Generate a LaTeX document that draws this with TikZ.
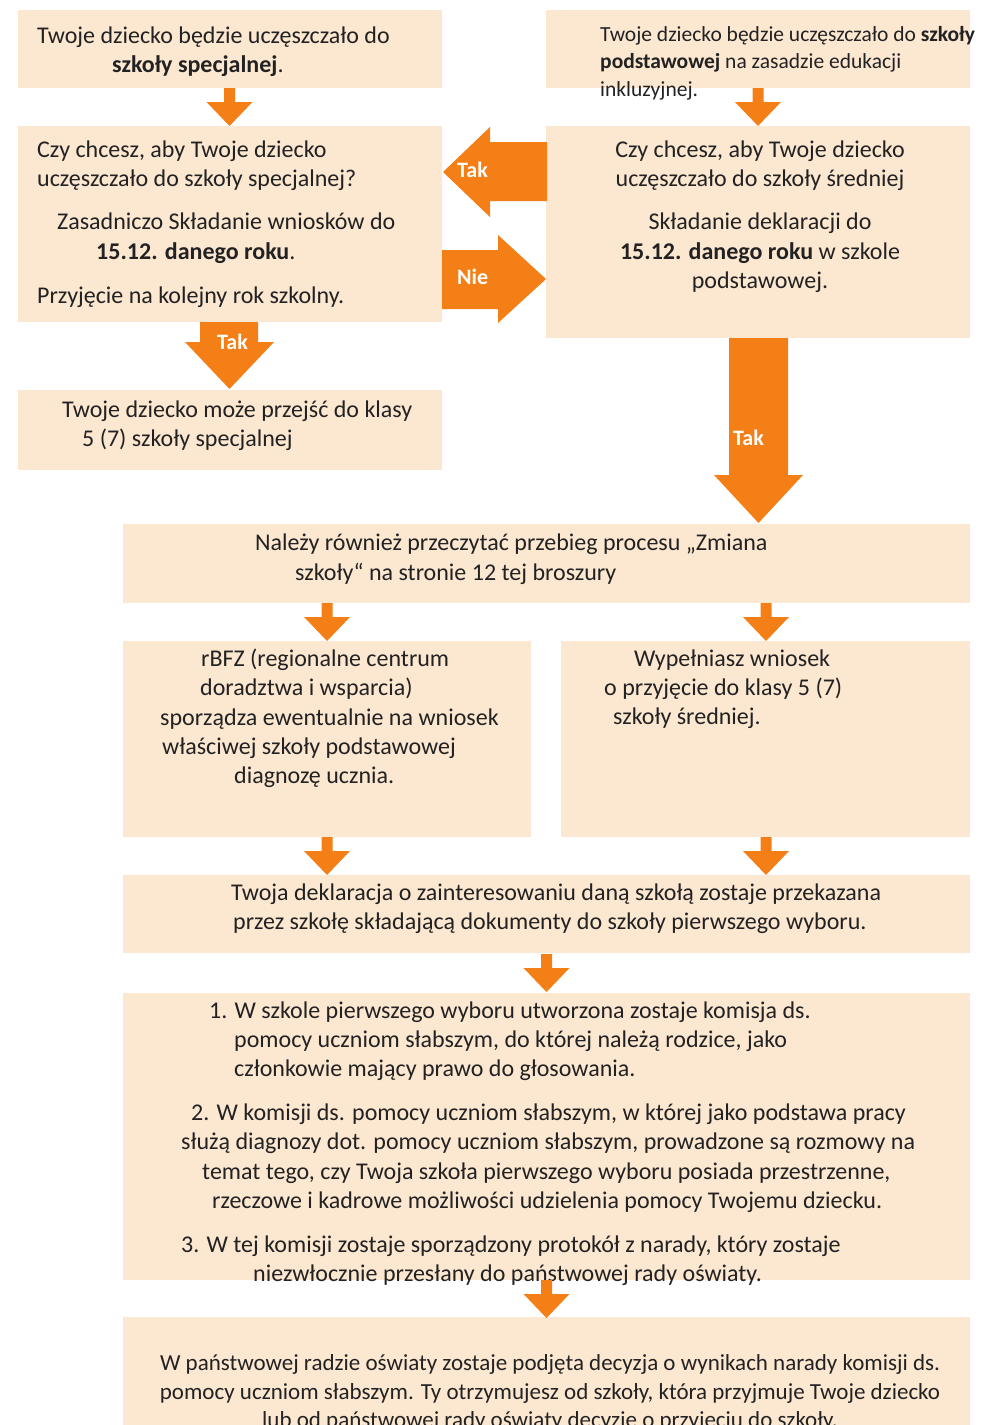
\documentclass[tikz,border=0pt]{standalone}
\usepackage{fontspec}
\setmainfont{Carlito}
\definecolor{boxc}{HTML}{FCE7D1}
\definecolor{arrc}{HTML}{F47F17}
\definecolor{txtc}{HTML}{222222}
\tikzset{
  box/.style={fill=boxc, draw=none, anchor=north west, inner sep=0pt},
  txt/.style={inner sep=0pt, text=txtc, font=\fontsize{24}{29}\selectfont, anchor=base west},
  txtc/.style={inner sep=0pt, text=txtc, font=\fontsize{24}{29}\selectfont, anchor=base},
  ftxt/.style={inner sep=0pt, text=txtc, font=\fontsize{23}{29}\selectfont, anchor=base},
  stxt/.style={inner sep=0pt, text=txtc, font=\fontsize{21.5}{27.5}\selectfont, anchor=base west},
  lab/.style={inner sep=0pt, text=white, font=\fontsize{22}{26}\selectfont\bfseries, anchor=base west},
  sdown/.pic={\fill[arrc] (-5.5,0) -- (5.5,0) -- (5.5,14) -- (23,14) -- (0,38) -- (-23,14) -- (-5.5,14) -- cycle;}
}
\begin{document}
\begin{tikzpicture}[x=1pt,y=-1pt]
\useasboundingbox (0,0) rectangle (982,1425);
% boxes
\node[box, minimum width=424pt, minimum height=78pt] (b1) at (18,10) {};
\node[box, minimum width=424pt, minimum height=78pt] (b2) at (546,10) {};
\node[box, minimum width=424pt, minimum height=196pt] (b3) at (18,126) {};
\node[box, minimum width=424pt, minimum height=212pt] (b4) at (546,126) {};
\node[box, minimum width=424pt, minimum height=80pt] (b5) at (18,390) {};
\node[box, minimum width=847pt, minimum height=79pt] (b6) at (123,524) {};
\node[box, minimum width=408pt, minimum height=196pt] (b7) at (123,641) {};
\node[box, minimum width=409pt, minimum height=196pt] (b8) at (561,641) {};
\node[box, minimum width=847pt, minimum height=78pt] (b9) at (123,875) {};
\node[box, minimum width=847pt, minimum height=287pt] (b10) at (123,993) {};
\node[box, minimum width=847pt, minimum height=130pt] (b11) at (123,1317) {};
% box 1
\node[txt] (t1a) at (37,43) {Twoje dziecko będzie uczęszczało do};
\node[txt] (t1b) at (112,72) {\textbf{szkoły specjalnej}.};
% box 2
\node[stxt] (t2a) at (600,41) {Twoje dziecko będzie uczęszczało do \textbf{szkoły}};
\node[stxt] (t2b) at (600,68.5) {\textbf{podstawowej} na zasadzie edukacji};
\node[stxt] (t2c) at (600,96) {inkluzyjnej.};
% box 3
\node[txt] (t3a) at (37,157) {Czy chcesz, aby Twoje dziecko};
\node[txt] (t3b) at (37,186) {uczęszczało do szkoły specjalnej?};
\node[txt] (t3c) at (57,229) {Zasadniczo Składanie wniosków do};
\node[txt] (t3d) at (96,259) {\textbf{15.12. danego roku}.};
\node[txt] (t3e) at (37,303) {Przyjęcie na kolejny rok szkolny.};
% box 4
\node[txtc] (t4a) at (760,157) {Czy chcesz, aby Twoje dziecko};
\node[txtc] (t4b) at (760,186) {uczęszczało do szkoły średniej};
\node[txtc] (t4c) at (760,229) {Składanie deklaracji do};
\node[txtc] (t4d) at (760,259) {\textbf{15.12. danego roku} w szkole};
\node[txtc] (t4e) at (760,288) {podstawowej.};
% box 5
\node[txt] (t5a) at (62,417) {Twoje dziecko może przejść do klasy};
\node[txt] (t5b) at (82,446) {5 (7) szkoły specjalnej};
% box 6
\node[txt] (t6a) at (255,550) {Należy również przeczytać przebieg procesu „Zmiana};
\node[txt] (t6b) at (295,580) {szkoły“ na stronie 12 tej broszury};
% box 7
\node[txt] (t7a) at (201,666) {rBFZ (regionalne centrum};
\node[txt] (t7b) at (200,695) {doradztwa i wsparcia)};
\node[txt] (t7c) at (160,725) {sporządza ewentualnie na wniosek};
\node[txt] (t7d) at (162,754) {właściwej szkoły podstawowej};
\node[txt] (t7e) at (234,783) {diagnozę ucznia.};
% box 8
\node[txt] (t8a) at (634,666) {Wypełniasz wniosek};
\node[txt] (t8b) at (604,695) {o przyjęcie do klasy 5 (7)};
\node[txt] (t8c) at (613,724) {szkoły średniej.};
% box 9
\node[txt] (t9a) at (231,900) {Twoja deklaracja o zainteresowaniu daną szkołą zostaje przekazana};
\node[txt] (t9b) at (233,929) {przez szkołę składającą dokumenty do szkoły pierwszego wyboru.};
% box 10
\node[txt] (t10a) at (209,1018) {1. W szkole pierwszego wyboru utworzona zostaje komisja ds.};
\node[txt] (t10b) at (234,1047) {pomocy uczniom słabszym, do której należą rodzice, jako};
\node[txt] (t10c) at (234,1076) {członkowie mający prawo do głosowania.};
\node[txt] (t10d) at (191,1120) {2. W komisji ds. pomocy uczniom słabszym, w której jako podstawa pracy};
\node[txt] (t10e) at (181,1149) {służą diagnozy dot. pomocy uczniom słabszym, prowadzone są rozmowy na};
\node[txt] (t10f) at (202,1179) {temat tego, czy Twoja szkoła pierwszego wyboru posiada przestrzenne,};
\node[txt] (t10g) at (212,1208) {rzeczowe i kadrowe możliwości udzielenia pomocy Twojemu dziecku.};
\node[txt] (t10h) at (181,1252) {3. W tej komisji zostaje sporządzony protokół z narady, który zostaje};
\node[txt] (t10i) at (253,1281) {niezwłocznie przesłany do państwowej rady oświaty.};
% box 11
\node[ftxt] (t11a) at (550,1370) {W państwowej radzie oświaty zostaje podjęta decyzja o wynikach narady komisji ds.};
\node[ftxt] (t11b) at (550,1399) {pomocy uczniom słabszym. Ty otrzymujesz od szkoły, która przyjmuje Twoje dziecko};
\node[ftxt] (t11c) at (550,1427) {lub od państwowej rady oświaty decyzję o przyjęciu do szkoły.};
% small arrows
\pic at (229.5,88) {sdown};
\pic at (758,88) {sdown};
\pic at (327,603) {sdown};
\pic at (766,603) {sdown};
\pic at (327,837) {sdown};
\pic at (766,837) {sdown};
\pic at (546.5,954) {sdown};
\pic at (546.5,1280) {sdown};
% Tak (left)
\fill[arrc] (547,142) -- (490,142) -- (490,127) -- (443,172) -- (490,217) -- (490,201) -- (547,201) -- cycle;
\node[lab] (ltak1) at (457,177) {Tak};
% Nie (right)
\fill[arrc] (442,250) -- (498,250) -- (498,235) -- (546,279) -- (498,323) -- (498,309) -- (442,309) -- cycle;
\node[lab] (lnie) at (457,284) {Nie};
% Tak down left
\fill[arrc] (200,322) -- (258,322) -- (258,342) -- (274,342) -- (229.5,389) -- (185,342) -- (200,342) -- cycle;
\node[lab] (ltak2) at (217,349) {Tak};
% Tak big down right
\fill[arrc] (729,338) -- (788,338) -- (788,475) -- (803,475) -- (758.5,523) -- (714,475) -- (729,475) -- cycle;
\node[lab] (ltak3) at (733,445) {Tak};
\end{tikzpicture}
\end{document}
